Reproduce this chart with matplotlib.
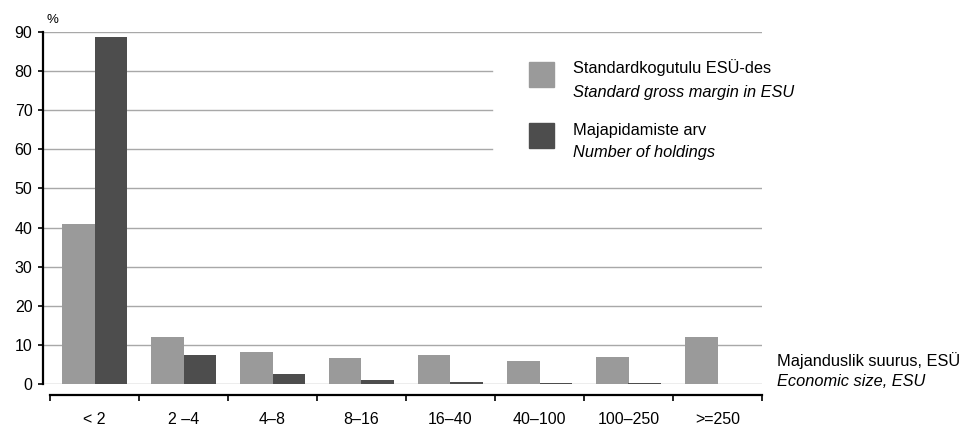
import matplotlib
matplotlib.use("Agg")
import matplotlib.pyplot as plt
from matplotlib.patches import Rectangle
import numpy as np

plt.rcParams['font.family'] = ['Liberation Sans', 'DejaVu Sans']

categories = ["< 2", "2 \u20134", "4\u20138", "8\u201316", "16\u201340", "40\u2013100", "100\u2013250", ">=250"]
gross_margin = [40.9, 12.1, 8.1, 6.6, 7.3, 6.0, 6.8, 11.9]
holdings = [88.7, 7.3, 2.5, 1.0, 0.5, 0.3, 0.2, 0.1]
yticks = [0, 10, 20, 30, 40, 50, 60, 70, 80, 90]

light = "#9a9a9a"
dark = "#4d4d4d"
grid_col = "#a8a8a8"

W, H = 967, 425
fig = plt.figure(figsize=(W / 100, H / 100), dpi=100)
ax = fig.add_axes([43 / W, 41 / H, 719 / W, 352 / H])

x = np.arange(len(categories))
bw = 0.37
ax.bar(x - bw / 2, gross_margin, bw, color=light, zorder=3)
ax.bar(x + bw / 2, holdings, bw, color=dark, zorder=3)

ax.set_xlim(-0.5 - 7 / 89, 7.5)
ax.set_ylim(0, 90)

# gridlines; the legend area hides part of the upper ones
for v in yticks:
    xmax = 449 / 719 if v in (60, 70, 80) else 1.0
    ax.axhline(v, xmin=0, xmax=xmax, color=grid_col, lw=1, zorder=1)

for s in ("top", "right"):
    ax.spines[s].set_visible(False)
ax.spines["left"].set_linewidth(1.6)
ax.spines["left"].set_bounds(0, 90)
ax.spines["bottom"].set_position(("outward", 8))
ax.spines["bottom"].set_bounds(-0.5, 7.5)
ax.spines["bottom"].set_linewidth(1.6)

ax.set_yticks(yticks)
ax.tick_params(axis="y", length=3.6, width=1.2, labelsize=11.5, pad=4)

ax.set_xticks(np.arange(-0.5, 8, 1))
ax.set_xticklabels([])
ax.tick_params(axis="x", which="major", length=4.5, width=1.2)
ax.set_xticks(x, minor=True)
ax.set_xticklabels(categories, minor=True, fontsize=11.5)
ax.tick_params(axis="x", which="minor", length=0, pad=12)

fig.text(52 / W, 1 - 20 / H, "%", fontsize=9.5, va="center", ha="center")

# legend
fs = 11.8
fig.patches.append(Rectangle((529 / W, 1 - 87 / H), 25 / W, 25 / H, color=light, transform=fig.transFigure))
fig.patches.append(Rectangle((529 / W, 1 - 148 / H), 25 / W, 25 / H, color=dark, transform=fig.transFigure))
fig.text(573 / W, 1 - 68 / H, "Standardkogutulu ES\u00dc-des", fontsize=fs, va="center")
fig.text(573 / W, 1 - 92 / H, "Standard gross margin in ESU", fontsize=fs, va="center", style="italic")
fig.text(573 / W, 1 - 130 / H, "Majapidamiste arv", fontsize=fs, va="center")
fig.text(573 / W, 1 - 153 / H, "Number of holdings", fontsize=fs, va="center", style="italic")

fig.text(777 / W, 1 - 361 / H, "Majanduslik suurus, ES\u00dc", fontsize=fs, va="center")
fig.text(777 / W, 1 - 382 / H, "Economic size, ESU", fontsize=fs, va="center", style="italic")

fig.savefig("out.png", dpi=100)
